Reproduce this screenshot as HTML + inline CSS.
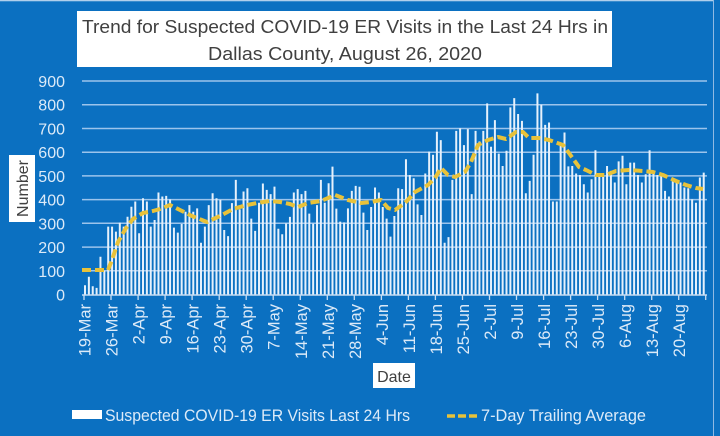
<!DOCTYPE html>
<html>
<head>
<meta charset="utf-8">
<style>
  html, body { margin: 0; padding: 0; background: #0B70C1; }
  svg { display: block; }
  text { font-family: "Liberation Sans", "DejaVu Sans", sans-serif; }
</style>
</head>
<body>
<svg width="720" height="436" viewBox="0 0 720 436" xmlns="http://www.w3.org/2000/svg">
  <rect x="0" y="0" width="720" height="436" fill="#0B70C1"/>
  <!-- chart border hints -->
  <line x1="0" y1="0.7" x2="714" y2="0.7" stroke="#C9DDF2" stroke-width="1.2"/>
  <line x1="713.5" y1="0" x2="713.5" y2="436" stroke="#8FB9E3" stroke-width="1"/>

  <!-- Title box -->
  <rect x="77" y="11" width="535" height="56" fill="#FFFFFF"/>
  <text x="345" y="33" font-size="18.5" fill="#404040" text-anchor="middle" textLength="526" lengthAdjust="spacingAndGlyphs">Trend for Suspected COVID-19 ER Visits in the Last 24 Hrs in</text>
  <text x="345" y="60" font-size="18.5" fill="#404040" text-anchor="middle" textLength="274" lengthAdjust="spacingAndGlyphs">Dallas County, August 26, 2020</text>

  <!-- Gridlines -->
  <g stroke="#9CC4EC" stroke-width="1.5">
    <line x1="82" y1="270.8" x2="707" y2="270.8"/>
    <line x1="82" y1="247.1" x2="707" y2="247.1"/>
    <line x1="82" y1="223.3" x2="707" y2="223.3"/>
    <line x1="82" y1="199.6" x2="707" y2="199.6"/>
    <line x1="82" y1="175.9" x2="707" y2="175.9"/>
    <line x1="82" y1="152.2" x2="707" y2="152.2"/>
    <line x1="82" y1="128.5" x2="707" y2="128.5"/>
    <line x1="82" y1="104.7" x2="707" y2="104.7"/>
    <line x1="82" y1="81.0" x2="707" y2="81.0"/>
  </g>

  <!-- Y labels -->
  <g font-size="16" fill="#DCEAF8" text-anchor="end">
    <text x="65" y="300.5">0</text>
    <text x="65" y="276.8">100</text>
    <text x="65" y="253.1">200</text>
    <text x="65" y="229.3">300</text>
    <text x="65" y="205.6">400</text>
    <text x="65" y="181.9">500</text>
    <text x="65" y="158.2">600</text>
    <text x="65" y="134.5">700</text>
    <text x="65" y="110.7">800</text>
    <text x="65" y="87.0">900</text>
  </g>

  <!-- Bars -->
  <g transform="translate(85,294.5) scale(3.867,-0.2372)">
    <path fill="none" stroke="#E6F1FC" stroke-width="2" vector-effect="non-scaling-stroke" d="M0 0V39M1 0V75M2 0V35M3 0V28M4 0V159M5 0V100M6 0V286M7 0V286M8 0V265M9 0V303M10 0V286M11 0V328M12 0V370M13 0V392M14 0V258M15 0V406M16 0V392M17 0V286M18 0V314M19 0V430M20 0V413M21 0V416M22 0V401M23 0V282M24 0V261M25 0V297M26 0V349M27 0V377M28 0V349M29 0V363M30 0V218M31 0V286M32 0V377M33 0V427M34 0V406M35 0V399M36 0V272M37 0V246M38 0V385M39 0V483M40 0V359M41 0V434M42 0V448M43 0V320M44 0V268M45 0V387M46 0V468M47 0V441M48 0V423M49 0V455M50 0V277M51 0V254M52 0V300M53 0V327M54 0V430M55 0V444M56 0V423M57 0V437M58 0V341M59 0V299M60 0V377M61 0V483M62 0V387M63 0V469M64 0V539M65 0V362M66 0V307M67 0V304M68 0V363M69 0V437M70 0V458M71 0V454M72 0V345M73 0V272M74 0V369M75 0V451M76 0V430M77 0V369M78 0V320M79 0V244M80 0V331M81 0V448M82 0V444M83 0V570M84 0V504M85 0V490M86 0V380M87 0V335M88 0V510M89 0V603M90 0V589M91 0V686M92 0V651M93 0V218M94 0V242M95 0V483M96 0V690M97 0V701M98 0V630M99 0V697M100 0V423M101 0V690M102 0V645M103 0V690M104 0V806M105 0V623M106 0V735M107 0V594M108 0V542M109 0V606M110 0V789M111 0V828M112 0V761M113 0V732M114 0V427M115 0V479M116 0V589M117 0V848M118 0V800M119 0V715M120 0V725M121 0V392M122 0V392M123 0V627M124 0V683M125 0V540M126 0V542M127 0V510M128 0V504M129 0V465M130 0V430M131 0V486M132 0V608M133 0V507M134 0V500M135 0V542M136 0V521M137 0V472M138 0V561M139 0V585M140 0V465M141 0V556M142 0V556M143 0V504M144 0V472M145 0V507M146 0V608M147 0V521M148 0V504M149 0V500M150 0V437M151 0V413M152 0V486M153 0V479M154 0V472M155 0V451M156 0V448M157 0V401M158 0V387M159 0V493M160 0V514"/>
  </g>

  <!-- X axis line and ticks -->
  <line x1="82" y1="295" x2="707" y2="295" stroke="#C5DCF3" stroke-width="1.5"/>
  <g stroke="#C5DCF3" stroke-width="1.3">
    <line x1="84.0" y1="295" x2="84.0" y2="300"/>
    <line x1="111.0" y1="295" x2="111.0" y2="300"/>
    <line x1="138.1" y1="295" x2="138.1" y2="300"/>
    <line x1="165.1" y1="295" x2="165.1" y2="300"/>
    <line x1="192.1" y1="295" x2="192.1" y2="300"/>
    <line x1="219.2" y1="295" x2="219.2" y2="300"/>
    <line x1="246.2" y1="295" x2="246.2" y2="300"/>
    <line x1="273.2" y1="295" x2="273.2" y2="300"/>
    <line x1="300.3" y1="295" x2="300.3" y2="300"/>
    <line x1="327.3" y1="295" x2="327.3" y2="300"/>
    <line x1="354.3" y1="295" x2="354.3" y2="300"/>
    <line x1="381.4" y1="295" x2="381.4" y2="300"/>
    <line x1="408.4" y1="295" x2="408.4" y2="300"/>
    <line x1="435.4" y1="295" x2="435.4" y2="300"/>
    <line x1="462.5" y1="295" x2="462.5" y2="300"/>
    <line x1="489.5" y1="295" x2="489.5" y2="300"/>
    <line x1="516.5" y1="295" x2="516.5" y2="300"/>
    <line x1="543.6" y1="295" x2="543.6" y2="300"/>
    <line x1="570.6" y1="295" x2="570.6" y2="300"/>
    <line x1="597.6" y1="295" x2="597.6" y2="300"/>
    <line x1="624.7" y1="295" x2="624.7" y2="300"/>
    <line x1="651.7" y1="295" x2="651.7" y2="300"/>
    <line x1="678.7" y1="295" x2="678.7" y2="300"/>
    <line x1="705.7" y1="295" x2="705.7" y2="300"/>
  </g>

  <!-- 7-day average line -->
  <polyline fill="none" stroke="#E8C23A" stroke-width="4" stroke-dasharray="9 4" stroke-linejoin="round"
    points="82,270 108,270 112,260 118,242 126,228 133,219 143,213 153,211 160,209 170,205 180,210 192,216 207,222 220,216 233,209 247,205 257,203 270,201 280,202 290,204 298,207 308,203 321,201 335,195 348,200 361,203 371,202 381,200 388,208 395,210 405,203 415,192 428,185 435,178 441,168 448,175 455,177 465,172 471,162 478,145 488,140 498,137 506,139 516,132 523,132 529,138 539,138 549,140 563,145 569,153 579,167 586,170 596,175 606,175 616,171 629,170 643,171 653,172 663,175 676,181 686,185 696,188 703,189"/>

  <!-- X labels -->
  <g font-size="16.5" fill="#DCEAF8" text-anchor="end">
    <text transform="translate(90.5,304) rotate(-90)">19-Mar</text>
    <text transform="translate(117.5,304) rotate(-90)">26-Mar</text>
    <text transform="translate(144.6,304) rotate(-90)">2-Apr</text>
    <text transform="translate(171.6,304) rotate(-90)">9-Apr</text>
    <text transform="translate(198.6,304) rotate(-90)">16-Apr</text>
    <text transform="translate(225.7,304) rotate(-90)">23-Apr</text>
    <text transform="translate(252.7,304) rotate(-90)">30-Apr</text>
    <text transform="translate(279.7,304) rotate(-90)">7-May</text>
    <text transform="translate(306.8,304) rotate(-90)">14-May</text>
    <text transform="translate(333.8,304) rotate(-90)">21-May</text>
    <text transform="translate(360.8,304) rotate(-90)">28-May</text>
    <text transform="translate(387.9,304) rotate(-90)">4-Jun</text>
    <text transform="translate(414.9,304) rotate(-90)">11-Jun</text>
    <text transform="translate(441.9,304) rotate(-90)">18-Jun</text>
    <text transform="translate(469.0,304) rotate(-90)">25-Jun</text>
    <text transform="translate(496.0,304) rotate(-90)">2-Jul</text>
    <text transform="translate(523.0,304) rotate(-90)">9-Jul</text>
    <text transform="translate(550.1,304) rotate(-90)">16-Jul</text>
    <text transform="translate(577.1,304) rotate(-90)">23-Jul</text>
    <text transform="translate(604.1,304) rotate(-90)">30-Jul</text>
    <text transform="translate(631.2,304) rotate(-90)">6-Aug</text>
    <text transform="translate(658.2,304) rotate(-90)">13-Aug</text>
    <text transform="translate(685.2,304) rotate(-90)">20-Aug</text>
  </g>

  <!-- Axis titles -->
  <rect x="9" y="155" width="26" height="67" fill="#FFFFFF"/>
  <text transform="translate(28,188.5) rotate(-90)" font-size="16" fill="#404040" text-anchor="middle">Number</text>

  <rect x="373" y="363" width="42" height="25" fill="#FFFFFF"/>
  <text x="394" y="382" font-size="16" fill="#404040" text-anchor="middle">Date</text>

  <!-- Legend -->
  <rect x="72" y="410" width="30" height="9" fill="#FFFFFF"/>
  <text x="105" y="421" font-size="16.5" fill="#DCEAF8" textLength="305" lengthAdjust="spacingAndGlyphs">Suspected COVID-19 ER Visits Last 24 Hrs</text>
  <line x1="447" y1="416" x2="480" y2="416" stroke="#E8C23A" stroke-width="3.5" stroke-dasharray="8 3"/>
  <text x="481" y="421" font-size="16.5" fill="#DCEAF8" textLength="165" lengthAdjust="spacingAndGlyphs">7-Day Trailing Average</text>
</svg>
</body>
</html>
